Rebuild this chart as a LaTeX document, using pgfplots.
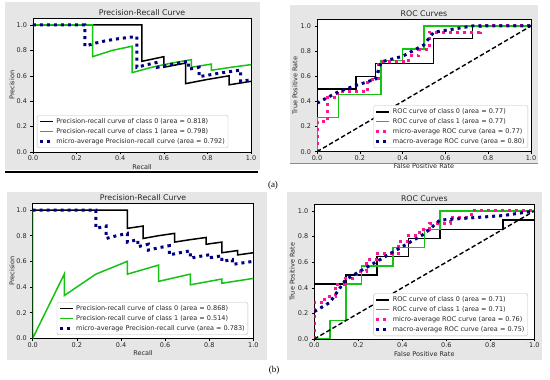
\documentclass[border=0pt]{standalone}
\usepackage{pgfplots}
\pgfplotsset{compat=1.18}
\usepackage{fontspec}
\setmainfont{DejaVu Sans}
\newfontfamily\seriffont{Liberation Serif}
\definecolor{figbg}{RGB}{230,230,230}
\definecolor{mygreen}{RGB}{20,195,20}
\definecolor{navyc}{RGB}{0,0,128}
\definecolor{deeppink}{RGB}{255,20,147}
\pgfplotsset{
 skp/.style={
  scale only axis, anchor=south west,
  xmin=0, xmax=1, ymin=0, ymax=1.05,
  axis background/.style={fill=white},
  axis line style={line width=0.5pt, black},
  tick align=outside, tick pos=left, major tick length=2.5pt,
  every tick/.style={black, line width=0.5pt},
  xtick={0,0.2,0.4,0.6,0.8,1}, ytick={0,0.2,0.4,0.6,0.8,1},
  /pgf/number format/.cd, fixed, fixed zerofill, precision=1, assume math mode=true, /pgfplots/.cd,
  tick label style={font=\fontsize{6.5}{7}\selectfont, text=black!85},
  xticklabel style={yshift=2pt},
  every axis x label/.style={at={(axis description cs:0.5,-0.11)}, anchor=center, font=\fontsize{6.5}{7}\selectfont, text=black!85},
  every axis y label/.style={at={(axis description cs:-0.097,0.5)}, anchor=center, rotate=90, font=\fontsize{6.5}{7}\selectfont, text=black!85},
  every axis title/.style={at={(axis description cs:0.5,1.045)}, anchor=center, font=\fontsize{7.8}{9}\selectfont, text=black!85},
  legend style={font=\fontsize{6.5}{7.5}\selectfont, draw=black!25, rounded corners=1.5pt, fill=white, inner sep=1.2pt, row sep=-0.6pt, cells={anchor=west}, text=black!85},
  legend image code/.code={\draw[#1] (0pt,0pt) -- (13pt,0pt);},
 },
 c0/.style={black, line width=1.5pt},
 c1/.style={mygreen, line width=1.5pt},
 micro/.style={navyc, line width=3pt, dash pattern=on 3pt off 4pt},
 rmicro/.style={deeppink, line width=3pt, dash pattern=on 3pt off 4pt},
 rmacro/.style={navyc, line width=3pt, dash pattern=on 3pt off 4pt},
 diag/.style={black, line width=1.4pt, dash pattern=on 4.5pt off 2.5pt},
}
\begin{document}
\begin{tikzpicture}[x=1pt,y=1pt]
\useasboundingbox (0,0) rectangle (550,380);
\fill[figbg] (5,210) rectangle (260,378);
\draw[black, line width=1.2pt] (5,208) -- (258,208);
\fill[figbg] (290,217) rectangle (538,375);
\draw[black!45, line width=1pt] (290,216.5) -- (538,216.5);
\fill[figbg] (7,20) rectangle (267,188);
\fill[figbg] (287,20) rectangle (542,188);
\node[font=\seriffont\fontsize{9}{10}\selectfont] at (273,195) {(a)};
\node[font=\seriffont\fontsize{9}{10}\selectfont] at (274,10) {(b)};

% ---------- (a) Precision-Recall ----------
\begin{axis}[skp, at={(33pt,228pt)}, width=218pt, height=133.4pt,
  title={Precision-Recall Curve}, xlabel={Recall}, ylabel={Precision},
  legend style={at={(0.018,0.03)}, anchor=south west}]
\addplot[c0] coordinates {(0,1) (0.5,1) (0.5,0.714) (0.6,0.75) (0.6,0.667) (0.7,0.7) (0.7,0.538) (0.8,0.571) (0.9,0.6) (0.9,0.529) (1.0,0.556)};
\addlegendentry{Precision-recall curve of class 0 (area = 0.818)}
\addplot[c1] coordinates {(0,1) (0.273,1) (0.273,0.75) (0.364,0.8) (0.455,0.833) (0.455,0.625) (0.545,0.667) (0.636,0.7) (0.727,0.727) (0.727,0.667) (0.818,0.692) (0.818,0.643) (0.909,0.667) (1,0.6875)};
\addlegendentry{Precision-recall curve of class 1 (area = 0.798)}
\addplot[micro] coordinates {(0,1) (0.238,1) (0.238,0.833) (0.286,0.857) (0.333,0.875) (0.381,0.889) (0.429,0.9) (0.476,0.909) (0.476,0.667) (0.524,0.6875) (0.571,0.706) (0.571,0.667) (0.619,0.684) (0.667,0.7) (0.714,0.714) (0.714,0.652) (0.762,0.667) (0.762,0.593) (0.810,0.607) (0.857,0.621) (0.905,0.633) (0.952,0.645) (0.952,0.556) (1,0.568)};
\addlegendentry{micro-average Precision-recall curve (area = 0.792)}
\end{axis}

% ---------- (a) ROC ----------
\begin{axis}[skp, at={(317pt,228.3pt)}, width=214pt, height=132pt,
  title={ROC Curves}, xlabel={False Positive Rate}, ylabel={True Positive Rate},
  every axis y label/.append style={at={(axis description cs:-0.103,0.5)}},
  legend style={at={(0.986,0.028)}, anchor=south east}]
\addplot[c0] coordinates {(0,0) (0,0.5) (0.182,0.5) (0.182,0.6) (0.273,0.6) (0.273,0.7) (0.545,0.7) (0.545,0.9) (0.727,0.9) (0.727,1) (1,1)};
\addlegendentry{ROC curve of class 0 (area = 0.77)}
\addplot[c1] coordinates {(0,0) (0,0.273) (0.1,0.273) (0.1,0.455) (0.3,0.455) (0.3,0.727) (0.4,0.727) (0.4,0.818) (0.5,0.818) (0.5,1) (1,1)};
\addlegendentry{ROC curve of class 1 (area = 0.77)}
\addplot[rmicro] coordinates {(0,0) (0,0.238) (0.048,0.238) (0.048,0.429) (0.095,0.429) (0.095,0.476) (0.238,0.476) (0.238,0.571) (0.286,0.571) (0.286,0.714) (0.429,0.714) (0.429,0.762) (0.476,0.762) (0.476,0.810) (0.524,0.810) (0.524,0.952) (0.762,0.952) (0.762,1) (1,1)};
\addlegendentry{micro-average ROC curve (area = 0.77)}
\addplot[rmacro] coordinates {(0,0.386) (0.1,0.477) (0.182,0.527) (0.273,0.577) (0.3,0.714) (0.4,0.759) (0.5,0.85) (0.545,0.95) (0.727,1) (1,1)};
\addlegendentry{macro-average ROC curve (area = 0.80)}
\addplot[diag, forget plot] coordinates {(0,0) (1,1)};
\end{axis}

% ---------- (b) Precision-Recall ----------
\begin{axis}[skp, at={(32.7pt,41.7pt)}, width=220.7pt, height=134.7pt,
  title={Precision-Recall Curve}, xlabel={Recall}, ylabel={Precision},
  every axis y label/.append style={at={(axis description cs:-0.094,0.5)}},
  legend style={at={(0.976,0.025)}, anchor=south east}]
\addplot[c0] coordinates {(0,1) (0.4286,1) (0.4286,0.857) (0.5,0.875) (0.5,0.778) (0.571,0.8) (0.643,0.818) (0.643,0.75) (0.714,0.769) (0.786,0.786) (0.786,0.733) (0.857,0.75) (0.857,0.667) (0.929,0.684) (0.929,0.65) (1,0.667)};
\addlegendentry{Precision-recall curve of class 0 (area = 0.868)}
\addplot[c1] coordinates {(0,1) (0,0) (0.143,0.5) (0.143,0.333) (0.286,0.5) (0.429,0.6) (0.429,0.5) (0.571,0.571) (0.571,0.444) (0.714,0.5) (0.714,0.417) (0.857,0.462) (0.857,0.429) (1,0.467)};
\addlegendentry{Precision-recall curve of class 1 (area = 0.514)}
\addplot[micro] coordinates {(0,1) (0.286,1) (0.286,0.857) (0.333,0.875) (0.333,0.778) (0.381,0.8) (0.429,0.818) (0.429,0.75) (0.476,0.769) (0.476,0.714) (0.524,0.733) (0.524,0.6875) (0.571,0.706) (0.619,0.722) (0.619,0.65) (0.667,0.667) (0.714,0.682) (0.714,0.625) (0.762,0.64) (0.810,0.654) (0.810,0.63) (0.857,0.643) (0.857,0.6) (0.905,0.613) (0.905,0.576) (0.952,0.588) (1,0.6)};
\addlegendentry{micro-average Precision-recall curve (area = 0.783)}
\end{axis}

% ---------- (b) ROC ----------
\begin{axis}[skp, at={(314.3pt,41pt)}, width=220pt, height=134.4pt,
  title={ROC Curves}, xlabel={False Positive Rate}, ylabel={True Positive Rate},
  every axis y label/.append style={at={(axis description cs:-0.101,0.5)}},
  legend style={at={(0.971,0.022)}, anchor=south east}]
\addplot[c0] coordinates {(0,0) (0,0.4286) (0.143,0.4286) (0.143,0.5) (0.286,0.5) (0.286,0.643) (0.429,0.643) (0.429,0.786) (0.571,0.786) (0.571,0.857) (0.857,0.857) (0.857,0.929) (1,0.929) (1,1)};
\addlegendentry{ROC curve of class 0 (area = 0.71)}
\addplot[c1] coordinates {(0,0) (0.071,0) (0.071,0.143) (0.143,0.143) (0.143,0.429) (0.214,0.429) (0.214,0.571) (0.357,0.571) (0.357,0.714) (0.5,0.714) (0.5,0.857) (0.571,0.857) (0.571,1) (1,1)};
\addlegendentry{ROC curve of class 1 (area = 0.71)}
\addplot[rmicro] coordinates {(0,0) (0,0.286) (0.048,0.286) (0.048,0.333) (0.095,0.333) (0.095,0.429) (0.143,0.429) (0.143,0.476) (0.190,0.476) (0.190,0.524) (0.238,0.524) (0.238,0.619) (0.286,0.619) (0.286,0.667) (0.381,0.667) (0.381,0.762) (0.429,0.762) (0.429,0.810) (0.476,0.810) (0.476,0.857) (0.524,0.857) (0.524,0.905) (0.619,0.905) (0.619,0.952) (0.714,0.952) (0.714,1) (1,1)};
\addlegendentry{micro-average ROC curve (area = 0.76)}
\addplot[rmacro] coordinates {(0,0.214) (0.071,0.286) (0.143,0.464) (0.214,0.536) (0.286,0.607) (0.357,0.679) (0.429,0.75) (0.5,0.821) (0.571,0.929) (0.857,0.964) (1,1)};
\addlegendentry{macro-average ROC curve (area = 0.75)}
\addplot[diag, forget plot] coordinates {(0,0) (1,1)};
\end{axis}
\end{tikzpicture}
\end{document}
